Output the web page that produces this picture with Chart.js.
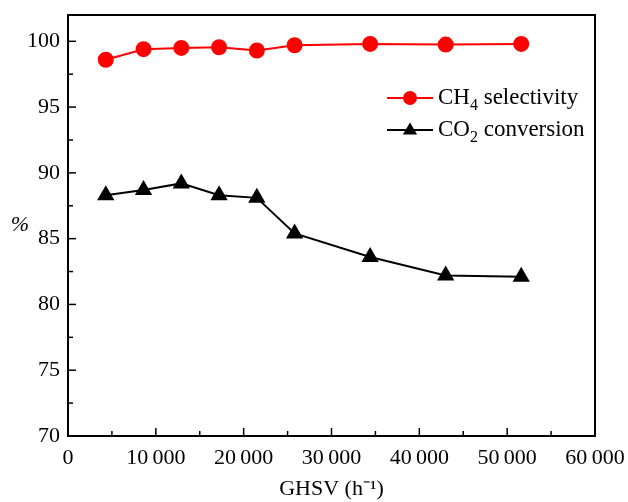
<!DOCTYPE html>
<html>
<head>
<meta charset="utf-8">
<script src="https://cdn.jsdelivr.net/npm/chart.js@4"></script>
<style>
  html, body { margin: 0; padding: 0; background: #fff; }
  #wrap { width: 628px; height: 502px; position: relative; }
</style>
</head>
<body>
<div id="wrap"><canvas id="myChart"></canvas></div>
<script>
// données
const ghsv = [4300, 8600, 12900, 17200, 21500, 25800, 34400, 43000, 51600];
const ch4Selectivity = [98.6, 99.4, 99.5, 99.55, 99.3, 99.7, 99.8, 99.75, 99.8];
const co2Conversion = [88.3, 88.7, 89.2, 88.3, 88.1, 85.4, 83.6, 82.2, 82.1];
const xTickValues = [0, 10000, 20000, 30000, 40000, 50000, 60000];
const yTickValues = [70, 75, 80, 85, 90, 95, 100];
// texte de légende : [avant, indice, après]
const legendParts = [['CH', '4', ' selectivity'], ['CO', '2', ' conversion']];

const police = '"Liberation Serif", "Times New Roman", serif';
const taille = 22;

function formatNombre(v) {
    return String(v).replace(/\B(?=(\d{3})+(?!\d))/g, '\u2009');
}

function points(xs, ys) {
    return xs.map((x, i) => ({ x: x, y: ys[i] }));
}

// cadre, graduations internes, légende et titre "%"
const decorPlugin = {
    id: 'decor',
    afterDraw(chart) {
        const ctx = chart.ctx;
        const area = chart.chartArea;
        const sx = chart.scales.x;
        const sy = chart.scales.y;
        ctx.save();
        ctx.strokeStyle = '#000';
        ctx.lineWidth = 2;
        ctx.strokeRect(area.left, area.top, area.right - area.left, area.bottom - area.top);

        ctx.lineWidth = 1.5;
        for (let v = 0; v <= 60000; v += 5000) {
            const px = sx.getPixelForValue(v);
            const len = v % 10000 === 0 ? 8 : 5;
            ctx.beginPath();
            ctx.moveTo(px, area.bottom);
            ctx.lineTo(px, area.bottom - len);
            ctx.stroke();
        }
        for (let v = 70; v <= 100; v += 2.5) {
            const py = sy.getPixelForValue(v);
            const len = v % 5 === 0 ? 8 : 5;
            ctx.beginPath();
            ctx.moveTo(area.left, py);
            ctx.lineTo(area.left + len, py);
            ctx.stroke();
        }

        // titre axe y
        ctx.fillStyle = '#000';
        ctx.font = 'italic ' + taille + 'px ' + police;
        ctx.textAlign = 'center';
        ctx.textBaseline = 'middle';
        ctx.fillText('%', 20, 225);

        // légende
        chart.data.datasets.forEach((ds, i) => {
            const y = 98 + i * 32;
            const x0 = 387, x1 = 433;
            ctx.strokeStyle = ds.borderColor;
            ctx.lineWidth = 2;
            ctx.beginPath();
            ctx.moveTo(x0, y);
            ctx.lineTo(x1, y);
            ctx.stroke();
            ctx.fillStyle = ds.pointBackgroundColor;
            const cx = (x0 + x1) / 2;
            if (ds.pointStyle === 'triangle') {
                const r = 7.5;
                ctx.beginPath();
                ctx.moveTo(cx, y - r);
                ctx.lineTo(cx + r * 0.95, y + r * 0.6);
                ctx.lineTo(cx - r * 0.95, y + r * 0.6);
                ctx.closePath();
                ctx.fill();
            } else {
                ctx.beginPath();
                ctx.arc(cx, y, 7, 0, Math.PI * 2);
                ctx.fill();
            }
            const parts = legendParts[i];
            let tx = 438;
            ctx.fillStyle = '#000';
            ctx.textAlign = 'left';
            ctx.textBaseline = 'middle';
            ctx.font = '23px ' + police;
            ctx.fillText(parts[0], tx, y);
            tx += ctx.measureText(parts[0]).width;
            ctx.font = '16px ' + police;
            ctx.fillText(parts[1], tx, y + 8);
            tx += ctx.measureText(parts[1]).width;
            ctx.font = '23px ' + police;
            ctx.fillText(parts[2], tx, y);
        });
        ctx.restore();
    }
};

const myChart = new Chart(document.getElementById('myChart'), {
    type: 'line',
    data: {
        datasets: [{
            label: 'CH4 selectivity',
            data: points(ghsv, ch4Selectivity),
            borderColor: '#ff0000',
            backgroundColor: '#ff0000',
            pointBackgroundColor: '#ff0000',
            pointBorderColor: '#ff0000',
            pointStyle: 'circle',
            pointRadius: 7,
            borderWidth: 2,
            tension: 0
        }, {
            label: 'CO2 conversion',
            data: points(ghsv, co2Conversion),
            borderColor: '#000000',
            backgroundColor: '#000000',
            pointBackgroundColor: '#000000',
            pointBorderColor: '#000000',
            pointStyle: 'triangle',
            pointRadius: 8,
            borderWidth: 2,
            tension: 0
        }]
    },
    options: {
        responsive: true,
        maintainAspectRatio: false,
        animation: false,
        layout: { padding: { top: 15, right: 33, left: 0, bottom: 0 } },
        plugins: {
            legend: { display: false },
            tooltip: { enabled: false }
        },
        scales: {
            x: {
                type: 'linear',
                min: 0,
                max: 60000,
                afterFit(scale) {
                    scale.height = 66;
                    scale.paddingLeft = 0;
                    scale.paddingRight = 0;
                },
                afterBuildTicks(scale) {
                    scale.ticks = xTickValues.map(v => ({ value: v }));
                },
                grid: { display: false, drawTicks: false },
                border: { display: true, color: '#000', width: 2 },
                ticks: {
                    color: '#000',
                    font: { family: police, size: taille },
                    padding: 9,
                    maxRotation: 0,
                    callback: v => formatNombre(v)
                },
                title: {
                    display: true,
                    text: 'GHSV (h\u207B\u00B9)',
                    color: '#000',
                    font: { family: police, size: taille },
                    padding: { top: 4, bottom: 0 }
                }
            },
            y: {
                min: 70,
                max: 102,
                afterFit(scale) {
                    scale.width = 68;
                    scale.paddingTop = 0;
                    scale.paddingBottom = 0;
                },
                afterBuildTicks(scale) {
                    scale.ticks = yTickValues.map(v => ({ value: v }));
                },
                grid: { display: false, drawTicks: false },
                border: { display: true, color: '#000', width: 2 },
                ticks: {
                    color: '#000',
                    font: { family: police, size: taille },
                    padding: 8
                }
            }
        }
    },
    plugins: [decorPlugin]
});
</script>
</body>
</html>
